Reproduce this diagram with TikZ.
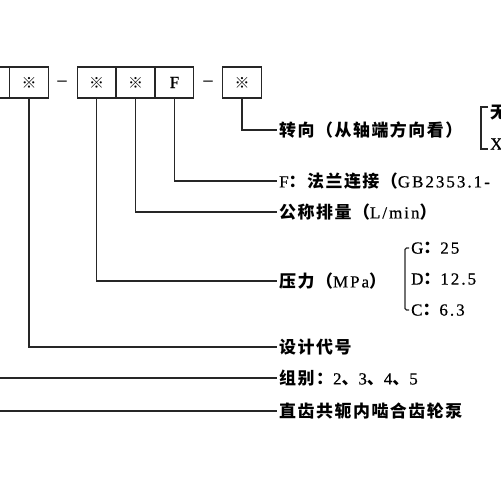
\documentclass[tikz,border=0pt]{standalone}
\usepackage{fontspec}
\setmainfont{Liberation Serif}[LetterSpace=12, FakeBold=0.6]
\newfontfamily\cjk{Noto Sans CJK SC}[LetterSpace=9]
\newcommand\zhtxt[1]{{\cjk\bfseries\fontsize{17}{17}\selectfont #1}}
\tikzset{
  box/.style={draw=black!85, line width=1.4bp, minimum width=38.5bp, minimum height=31bp, inner sep=0pt,
    font=\cjk\bfseries\fontsize{15}{15}\selectfont},
  lab/.style={anchor=west, inner sep=2bp, font=\fontsize{17}{17}\selectfont},
  conn/.style={draw=black!85, line width=1.3bp},
  dashmark/.style={inner sep=0pt, font=\fontsize{18}{18}\selectfont}
}
\begin{document}
\begin{tikzpicture}[x=1bp,y=-1bp]
\useasboundingbox (0,0) rectangle (500,500);
% boxes
\node[box] (b1) at (-9.5,82.5) {};
\node[box] (b2) at (29,82.5) {※};
\node[dashmark] (d1) at (62,83) {–};
\node[box] (b3) at (96.5,82.5) {※};
\node[box] (b4) at (135.5,82.5) {※};
\node[box, font=\fontsize{17}{17}\selectfont] (b5) at (174.5,82.5) {F};
\node[dashmark] (d2) at (208,83) {–};
\node[box] (b6) at (242,82.5) {※};
% labels
\node[lab] (l1) at (277,130) {\zhtxt{转向（从轴端方向看）}};
\node[lab] (l2) at (277,181) {F\zhtxt{：法兰连接（}GB2353.1-};
\node[lab] (l3) at (277,212) {\zhtxt{公称排量（}L/min\zhtxt{）}};
\node[lab] (l4) at (277,281) {\zhtxt{压力（}MPa\zhtxt{）}};
\node[lab] (l5) at (277,347) {\zhtxt{设计代号}};
\node[lab] (l6) at (277,378) {\zhtxt{组别：}2\zhtxt{、}3\zhtxt{、}4\zhtxt{、}5};
\node[lab] (l7) at (277,411) {\zhtxt{直齿共轭内啮合齿轮泵}};
% pressure options
\node[lab] (pG) at (409,248) {G\zhtxt{：}25};
\node[lab] (pD) at (409,279) {D\zhtxt{：}12.5};
\node[lab] (pC) at (409,310) {C\zhtxt{：}6.3};
\draw[conn, rounded corners=1.5bp] (pG.west) -- ++(-4,0) |- (pC.west);
% rotation options
\node[lab] (r1) at (488,113) {\zhtxt{无}};
\node[lab] (r2) at (488,144) {X};
\coordinate (rt) at (488,107);
\coordinate (rb) at (488,149);
\draw[conn] (rt) -- ++(-7,0) |- (rb);
% left free ends
\coordinate (c6) at (0,378);
\coordinate (c7) at (0,411);
% connectors
\draw[conn] (b6.south) |- (l1.west);
\draw[conn] (b5.south) |- (l2.west);
\draw[conn] (b4.south) |- (l3.west);
\draw[conn] (b3.south) |- (l4.west);
\draw[conn] (b2.south) |- (l5.west);
\draw[conn] (c6) -- (l6.west);
\draw[conn] (c7) -- (l7.west);
\end{tikzpicture}
\end{document}
